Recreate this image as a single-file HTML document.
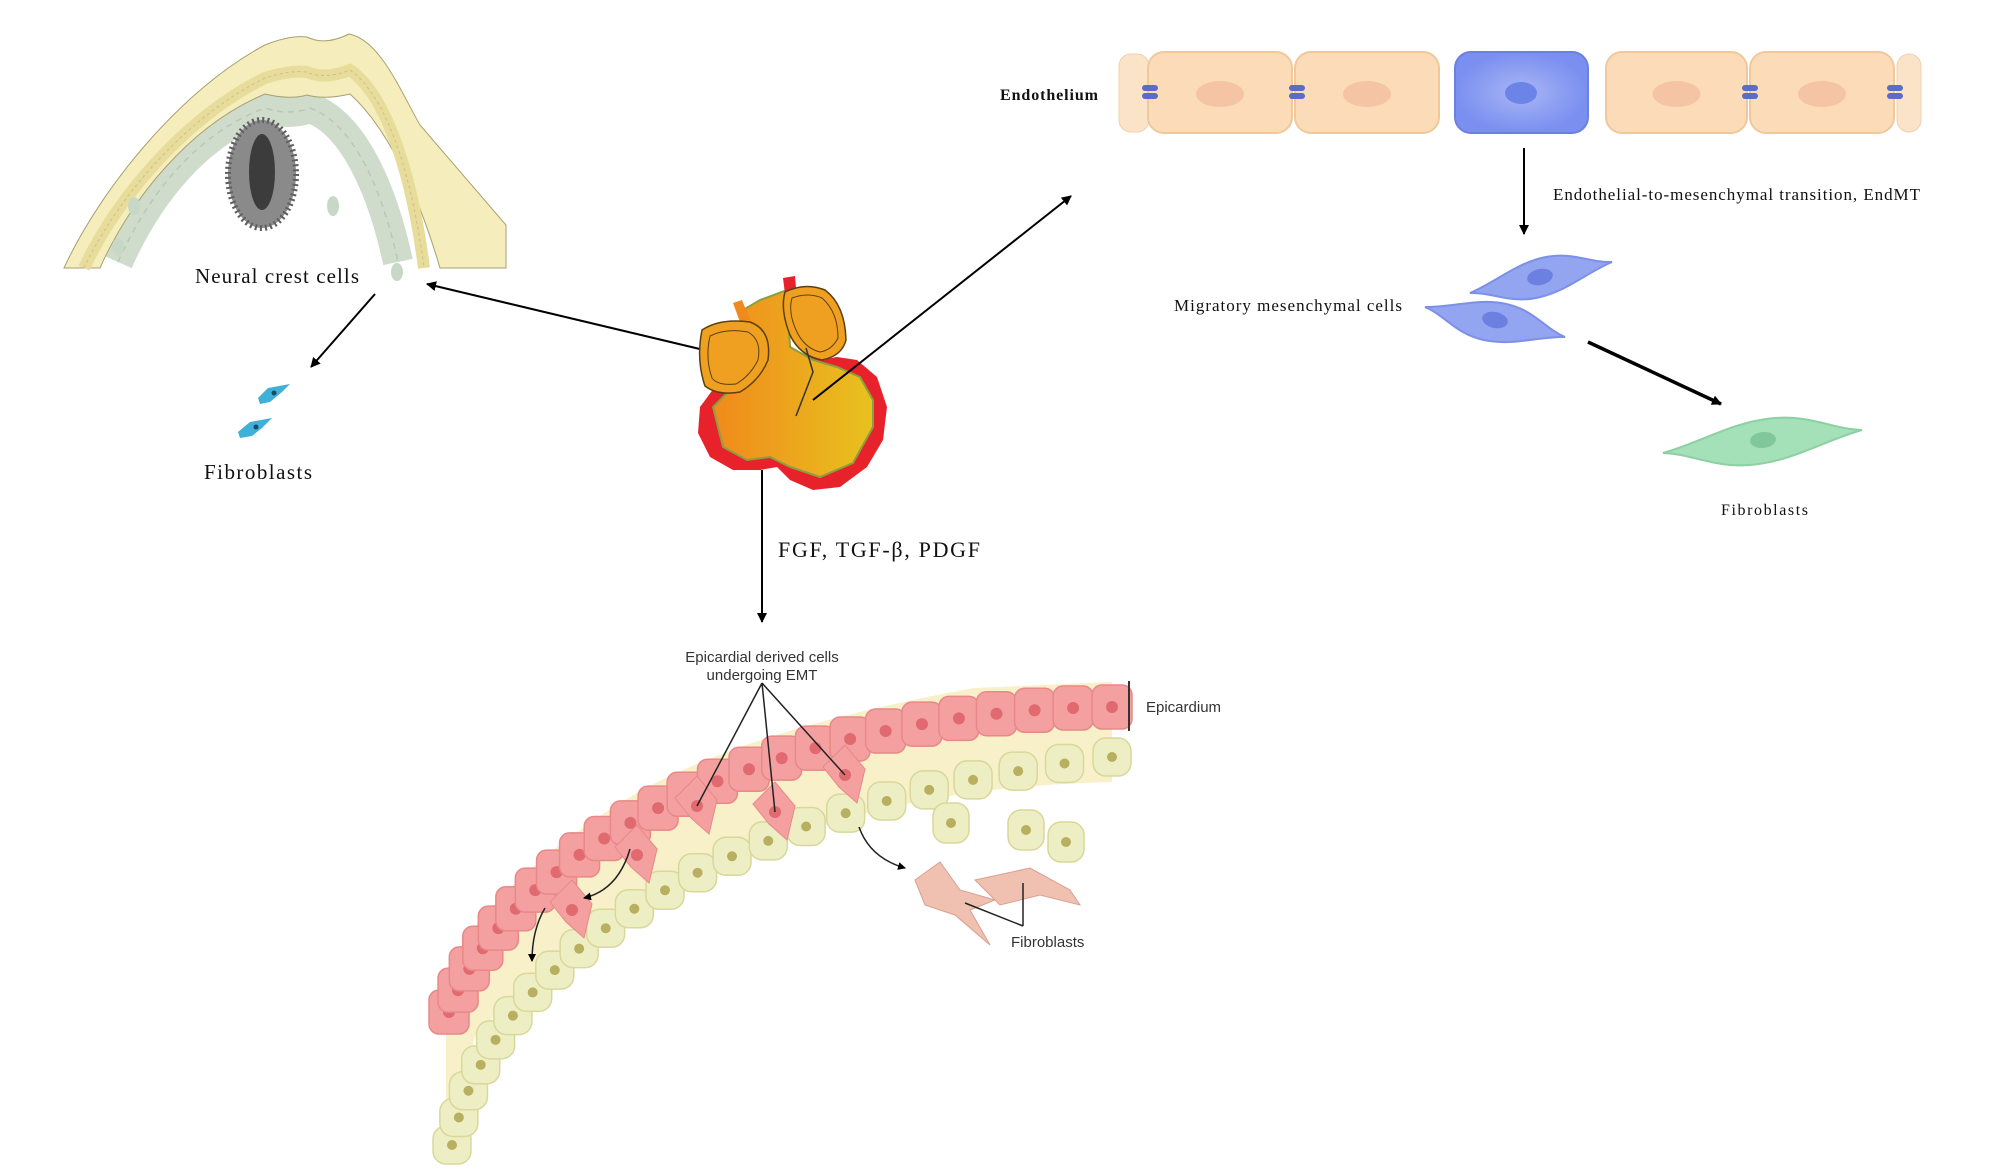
<!DOCTYPE html>
<html><head><meta charset="utf-8"><style>
html,body{margin:0;padding:0;background:#fff;}
svg{display:block;}
.s{font-family:"Liberation Serif",serif;fill:#111;}
</style></head><body>
<svg id="sv" width="2008" height="1174" viewBox="0 0 2008 1174" xmlns="http://www.w3.org/2000/svg">
<defs>
<marker id="ah" markerWidth="10" markerHeight="10" refX="9" refY="5" orient="auto" markerUnits="userSpaceOnUse"><path d="M0,0 L10,5 L0,10 Z" fill="#000"/></marker>
<marker id="ahs" markerWidth="8" markerHeight="8" refX="7" refY="4" orient="auto" markerUnits="userSpaceOnUse"><path d="M0,0 L8,4 L0,8 Z" fill="#000"/></marker>
<linearGradient id="hg" x1="0" y1="0" x2="1" y2="0"><stop offset="0" stop-color="#f08a1c"/><stop offset="1" stop-color="#e8c21e"/></linearGradient>
<radialGradient id="bg1"><stop offset="0" stop-color="#a9b6f5"/><stop offset="1" stop-color="#7a8ff0"/></radialGradient>
</defs>

<!-- Neural section -->
<path d="M118,262 C150,190 200,132 265,108 Q290,116 310,108 C345,120 378,170 398,262" fill="none" stroke="#cfdccb" stroke-width="30"/>
<path d="M118,262 C150,190 200,132 265,108 Q290,116 310,108 C345,120 378,170 398,262" fill="none" stroke="#b7c9b4" stroke-width="1.5" stroke-dasharray="6 5"/>
<path d="M64,268 C100,190 180,90 265,45 Q290,35 307,37 Q325,46 349,34 C380,40 400,90 420,125 L506,225 L506,268 L440,268 C420,200 390,130 350,94 Q325,100 307,95 Q290,100 265,94 C190,125 130,200 100,268 Z" fill="#f5eebc" stroke="#a8a070" stroke-width="1"/>
<path d="M84,268 C120,192 190,115 265,78 Q290,70 307,72 Q325,80 350,70 C382,92 410,160 424,268" fill="none" stroke="#e8dc9a" stroke-width="12"/>
<path d="M84,268 C120,192 190,115 265,78 Q290,70 307,72 Q325,80 350,70 C382,92 410,160 424,268" fill="none" stroke="#c9c090" stroke-width="1" stroke-dasharray="3 3"/>
<ellipse cx="262" cy="174" rx="34" ry="54" fill="#8a8a8a"/>
<ellipse cx="262" cy="174" rx="34" ry="54" fill="none" stroke="#5f5f5f" stroke-width="6" stroke-dasharray="2 3"/>
<ellipse cx="262" cy="172" rx="13" ry="38" fill="#3c3c3c"/>
<g fill="#c8d8c6"><ellipse cx="333" cy="206" rx="6" ry="10"/><ellipse cx="397" cy="272" rx="6" ry="9"/><ellipse cx="118" cy="247" rx="6" ry="9"/><ellipse cx="134" cy="206" rx="6" ry="9"/></g>
<text class="s" x="195" y="283" font-size="21" textLength="164">Neural crest cells</text>
<g fill="#3fb0d8"><path d="M258,398 L268,388 L290,384 L282,392 L270,402 L260,404 Z"/><path d="M238,432 L250,422 L272,418 L262,428 L252,436 L240,438 Z"/></g>
<g fill="#1a4a6a"><circle cx="274" cy="393" r="2.5"/><circle cx="256" cy="427" r="2.5"/></g>
<text class="s" x="204" y="479" font-size="21" textLength="108">Fibroblasts</text>
<line x1="375" y1="294" x2="311" y2="367" stroke="#000" stroke-width="2" marker-end="url(#ah)"/>
<line x1="704" y1="350" x2="427" y2="284" stroke="#000" stroke-width="2" marker-end="url(#ah)"/>

<!-- Heart -->
<path d="M700,407 L698,433 L710,457 L733,470 L760,470 L777,467 L790,480 L813,490 L840,487 L867,467 L883,440 L887,407 L877,377 L857,360 L837,357 L820,360 L800,352 L720,380 Z" fill="#e8222a"/>
<path d="M713,407 L723,447 L747,460 L770,457 L790,467 L820,477 L853,463 L873,427 L873,400 L860,377 L837,367 L813,360 L790,347 L787,290 L760,300 L743,310 L747,370 L727,393 Z" fill="url(#hg)" stroke="#8aa040" stroke-width="2"/>
<path d="M733,303 L742,300 L750,320 L740,322 Z" fill="#f08a1c"/><path d="M783,278 L795,276 L797,300 L786,302 Z" fill="#e8222a"/>
<path d="M702,330 Q720,318 750,322 Q772,330 768,360 Q760,380 740,392 Q718,396 705,386 Q696,360 702,330 Z" fill="#f0a020" stroke="#5a4010" stroke-width="1.5"/>
<path d="M710,336 Q726,328 748,332 Q762,340 758,360 Q750,376 736,384 Q718,386 712,378 Q705,358 710,336 Z" fill="none" stroke="#5a4010" stroke-width="1"/>
<path d="M785,292 Q805,282 825,290 Q845,305 846,340 Q842,356 822,360 Q800,356 790,335 Q780,310 785,292 Z" fill="#f0a020" stroke="#5a4010" stroke-width="1.5"/>
<path d="M792,298 Q808,292 822,298 Q838,312 838,338 Q832,350 820,352 Q804,348 796,330 Q788,312 792,298 Z" fill="none" stroke="#5a4010" stroke-width="1"/>
<path d="M806,348 L813,372 L796,416" fill="none" stroke="#333" stroke-width="1.5"/>
<line x1="813" y1="400" x2="1071" y2="196" stroke="#000" stroke-width="2" marker-end="url(#ah)"/>
<line x1="762" y1="470" x2="762" y2="622" stroke="#000" stroke-width="2" marker-end="url(#ah)"/>
<text class="s" x="778" y="557" font-size="22" textLength="202">FGF, TGF-β, PDGF</text>

<!-- Endothelium -->
<text class="s" x="1000" y="100" font-size="16" font-weight="bold" textLength="98">Endothelium</text>
<g id="endo"></g>
<line x1="1524" y1="148" x2="1524" y2="234" stroke="#000" stroke-width="2" marker-end="url(#ah)"/>
<text class="s" x="1553" y="200" font-size="17" textLength="367">Endothelial-to-mesenchymal transition, EndMT</text>
<text class="s" x="1174" y="311" font-size="17" textLength="228">Migratory mesenchymal cells</text>
<g id="spin"></g>
<line x1="1588" y1="342" x2="1721" y2="404" stroke="#000" stroke-width="3.5" marker-end="url(#ah)"/>
<text class="s" x="1721" y="515" font-size="16" textLength="87">Fibroblasts</text>

<!-- Epicardium -->
<path d="M446,973 C475,913 544,849 630,797 C721,744 848,711 974,688 L1112,682 L1112,782 C1000,785 917,797 802,830 C687,879 572,935 475,1036 L446,1152 Z" fill="#f8f0c8"/>
<g id="epi"></g>
<g fill="none" stroke="#222" stroke-width="1.5">
<line x1="762" y1="683" x2="697" y2="806"/><line x1="762" y1="683" x2="775" y2="812"/><line x1="762" y1="683" x2="845" y2="775"/>
<path d="M859,827 Q870,858 905,868" marker-end="url(#ahs)"/>
<path d="M630,849 Q618,890 584,898" marker-end="url(#ahs)"/>
<path d="M545,908 Q532,930 532,961" marker-end="url(#ahs)"/>
<line x1="1023" y1="926" x2="965" y2="903"/><line x1="1023" y1="926" x2="1023" y2="883"/>
</g>
<line x1="1129" y1="681" x2="1129" y2="731" stroke="#333" stroke-width="2"/>
<text x="1146" y="712" font-size="15" font-family="Liberation Sans Narrow,Liberation Sans,sans-serif" fill="#333">Epicardium</text>
<text x="762" y="662" font-size="15" text-anchor="middle" font-family="Liberation Sans Narrow,Liberation Sans,sans-serif" fill="#333">Epicardial derived cells</text>
<text x="762" y="680" font-size="15" text-anchor="middle" font-family="Liberation Sans Narrow,Liberation Sans,sans-serif" fill="#333">undergoing EMT</text>
<text x="1011" y="947" font-size="15" font-family="Liberation Sans Narrow,Liberation Sans,sans-serif" fill="#333">Fibroblasts</text>
</svg>
<script>
var NS="http://www.w3.org/2000/svg";
function el(p,t,a){var e=document.createElementNS(NS,t);for(var k in a)e.setAttribute(k,a[k]);p.appendChild(e);return e;}
var endo=document.getElementById('endo');
el(endo,'rect',{x:1119,y:54,width:30,height:78,rx:12,fill:'#fbe3c8',stroke:'#f0d0b0'});
el(endo,'rect',{x:1897,y:54,width:24,height:78,rx:12,fill:'#fbe3c8',stroke:'#f0d0b0'});
[[1148,1292],[1295,1439],[1606,1747],[1750,1894]].forEach(function(c){
 el(endo,'rect',{x:c[0],y:52,width:c[1]-c[0],height:81,rx:16,fill:'#fcdcb8',stroke:'#f0c89c','stroke-width':2});
 el(endo,'ellipse',{cx:(c[0]+c[1])/2,cy:94,rx:24,ry:13,fill:'#f4c4a4'});
});
el(endo,'rect',{x:1455,y:52,width:133,height:81,rx:16,fill:'url(#bg1)',stroke:'#6c80e0','stroke-width':2});
el(endo,'ellipse',{cx:1521,cy:93,rx:16,ry:11,fill:'#6c84e8'});
[1150,1297,1750,1895].forEach(function(x){el(endo,'rect',{x:x-8,y:85,width:16,height:6,rx:3,fill:'#5a6cc8'});el(endo,'rect',{x:x-8,y:93,width:16,height:6,rx:3,fill:'#5a6cc8'});});
var sp=document.getElementById('spin');
function spindle(x1,y1,x2,y2,w,fill,stroke,nc,nx,ny){
 var dx=x2-x1,dy=y2-y1,L=Math.sqrt(dx*dx+dy*dy),a=Math.atan2(dy,dx)*180/Math.PI;
 var g=el(sp,'g',{transform:'translate('+x1+','+y1+') rotate('+a+')'});
 el(g,'path',{d:'M0,0 C'+L*0.2+','+(-w*0.3)+' '+L*0.35+','+(-w)+' '+L*0.55+','+(-w)+' C'+L*0.75+','+(-w)+' '+L*0.85+','+(-w*0.2)+' '+L+',0 C'+L*0.8+','+(w*0.3)+' '+L*0.65+','+w+' '+L*0.45+','+w+' C'+L*0.25+','+w+' '+L*0.15+','+(w*0.2)+' 0,0 Z',fill:fill,stroke:stroke,'stroke-width':2});
 el(sp,'ellipse',{cx:nx,cy:ny,rx:13,ry:8,fill:nc,transform:'rotate('+a+' '+nx+' '+ny+')'});
}
spindle(1470,293,1612,262,19,'#93a4f0','#7d90e8','#6b80e0',1540,277);
spindle(1425,307,1565,337,20,'#93a4f0','#7d90e8','#6b80e0',1495,320);
spindle(1663,453,1862,430,22,'#a4e0b8','#8cd0a4','#80c89a',1763,440);
var epi=document.getElementById('epi');
function bez(P,t){var u=1-t;return[u*u*u*P[0][0]+3*u*u*t*P[1][0]+3*u*t*t*P[2][0]+t*t*t*P[3][0],u*u*u*P[0][1]+3*u*u*t*P[1][1]+3*u*t*t*P[2][1]+t*t*t*P[3][1]];}
var Y=[[452,1145],[492,940],[760,800],[1112,757]];
for(var i=0;i<=22;i++){var p=bez(Y,i/22);
 el(epi,'rect',{x:p[0]-19,y:p[1]-19,width:38,height:38,rx:13,fill:'#eeeec4',stroke:'#d8d89a','stroke-width':1.5});
 el(epi,'circle',{cx:p[0],cy:p[1],r:5,fill:'#b8b060'});}
[[951,823],[1026,830],[1066,842]].forEach(function(p){el(epi,'rect',{x:p[0]-18,y:p[1]-20,width:36,height:40,rx:13,fill:'#eeeec4',stroke:'#d8d89a','stroke-width':1.5});el(epi,'circle',{cx:p[0],cy:p[1],r:5,fill:'#b8b060'});});
var R=[[449,1012],[512,835],[800,710],[1112,707]];
for(var i=0;i<=24;i++){var p=bez(R,i/24);
 el(epi,'rect',{x:p[0]-20,y:p[1]-22,width:40,height:44,rx:10,fill:'#f4a0a0',stroke:'#e88888','stroke-width':1.5});
 el(epi,'circle',{cx:p[0],cy:p[1],r:6,fill:'#e06a70'});}
[[697,806],[775,812],[845,775],[637,855],[572,910]].forEach(function(p){el(epi,'path',{d:'M'+(p[0]-22)+','+(p[1]-8)+' L'+p[0]+','+(p[1]-30)+' L'+(p[0]+20)+','+(p[1]-6)+' L'+(p[0]+12)+','+(p[1]+28)+' L'+(p[0]-6)+','+(p[1]+12)+' Z',fill:'#f4a0a0',stroke:'#e88888'});el(epi,'circle',{cx:p[0],cy:p[1],r:6,fill:'#e06a70'});});
el(epi,'path',{d:'M915,880 L940,862 L960,890 L995,900 L970,910 L990,945 L955,915 L925,905 Z',fill:'#f0c0b0',stroke:'#d8a090'});
el(epi,'path',{d:'M975,880 L1030,868 L1070,890 L1080,905 L1040,895 L1000,905 Z',fill:'#f0c0b0',stroke:'#d8a090'});
</script>
</body></html>
